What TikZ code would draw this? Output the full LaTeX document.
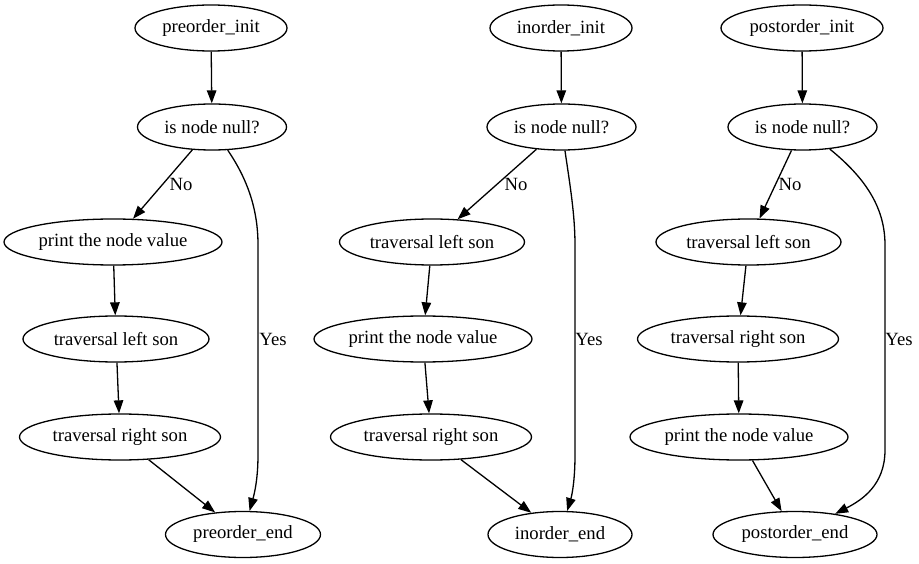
\documentclass[tikz,border=0pt]{standalone}
\usepackage{fontspec}
\setmainfont{Liberation Serif}
\usetikzlibrary{arrows.meta,shapes.geometric}
\begin{document}
\begin{tikzpicture}[x=1pt,y=-1pt,
  st/.style={draw,ellipse,inner sep=0pt,minimum height=46pt,line width=1.3pt,font=\fontsize{18.67pt}{22pt}\selectfont},
  ed/.style={-{Triangle[length=13pt,width=9.5pt]},line width=1.3pt},
  lb/.style={font=\fontsize{18.67pt}{22pt}\selectfont,inner sep=0pt}]
\useasboundingbox (0,0) rectangle (919,564);
% column 1
\node[st,minimum width=152pt] (a0) at (211,28) {preorder\_init};
\node[st,minimum width=149pt] (a1) at (212,127) {is node null?};
\node[st,minimum width=218pt] (a2) at (113,242) {print the node value};
\node[st,minimum width=186pt] (a3) at (116,339) {traversal left son};
\node[st,minimum width=201pt] (a4) at (120,437) {traversal right son};
\node[st,minimum width=155pt] (a5) at (243,534.5) {preorder\_end};
\draw[ed] (a0) -- (a1);
\draw[ed] (a1) -- (a2);
\draw[ed] (a2) -- (a3);
\draw[ed] (a3) -- (a4);
\draw[ed] (a4) -- (a5);
\coordinate (a6) at (258,245);
\coordinate (a7) at (258,455);
\draw[ed] (a1) .. controls (248,180) and (258,210) .. (a6) -- (a7) .. controls (258,480) and (254,495) .. (a5);
\node[lb] (a8) at (181,184) {No};
\node[lb] (a9) at (273,339) {Yes};
% column 2
\node[st,minimum width=142pt] (b0) at (561,28) {inorder\_init};
\node[st,minimum width=149pt] (b1) at (561.5,127) {is node null?};
\node[st,minimum width=185pt] (b2) at (432,242) {traversal left son};
\node[st,minimum width=218pt] (b3) at (423,339) {print the node value};
\node[st,minimum width=201pt] (b4) at (431,437) {traversal right son};
\node[st,minimum width=144pt] (b5) at (560,534.5) {inorder\_end};
\draw[ed] (b0) -- (b1);
\draw[ed] (b1) -- (b2);
\draw[ed] (b2) -- (b3);
\draw[ed] (b3) -- (b4);
\draw[ed] (b4) -- (b5);
\coordinate (b6) at (575,245);
\coordinate (b7) at (575,455);
\draw[ed] (b1) .. controls (570,185) and (575,215) .. (b6) -- (b7) .. controls (575,480) and (572,495) .. (b5);
\node[lb] (b8) at (516,184) {No};
\node[lb] (b9) at (589,339) {Yes};
% column 3
\node[st,minimum width=162pt] (c0) at (802,28) {postorder\_init};
\node[st,minimum width=149pt] (c1) at (802.5,127) {is node null?};
\node[st,minimum width=185pt] (c2) at (748.5,242) {traversal left son};
\node[st,minimum width=201pt] (c3) at (738,339) {traversal right son};
\node[st,minimum width=218pt] (c4) at (739,437) {print the node value};
\node[st,minimum width=164pt] (c5) at (795,534.5) {postorder\_end};
\draw[ed] (c0) -- (c1);
\draw[ed] (c1) -- (c2);
\draw[ed] (c2) -- (c3);
\draw[ed] (c3) -- (c4);
\draw[ed] (c4) -- (c5);
\coordinate (c6) at (885,245);
\coordinate (c7) at (885,450);
\draw[ed] (c1) .. controls (868,180) and (885,210) .. (c6) -- (c7) .. controls (885,485) and (862,500) .. (c5);
\node[lb] (c8) at (790,184) {No};
\node[lb] (c9) at (899,339) {Yes};
\end{tikzpicture}
\end{document}
